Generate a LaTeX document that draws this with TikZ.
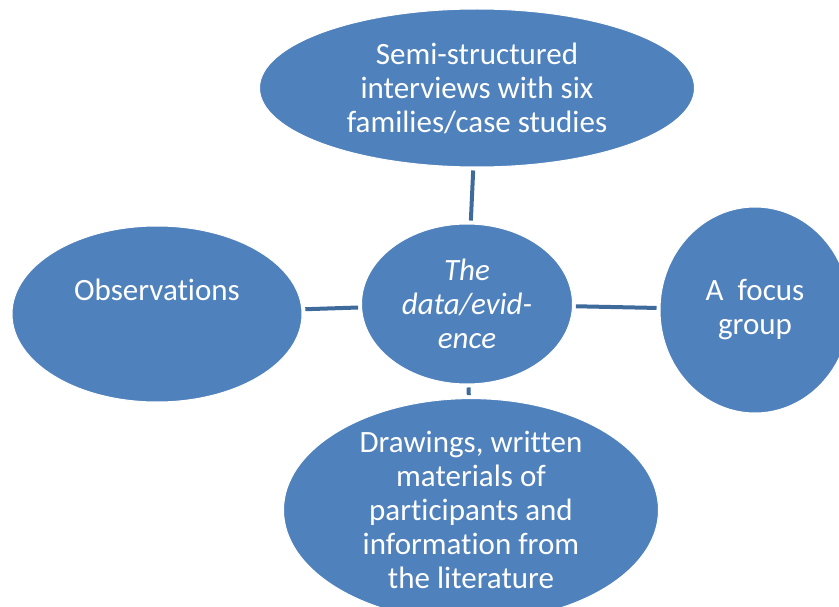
\documentclass[tikz,border=0pt]{standalone}
\usepackage{fontspec}
\setmainfont{Carlito}[Ligatures=NoCommon]
\usetikzlibrary{shapes.geometric}
\definecolor{nodeblue}{HTML}{4F81BD}
\definecolor{edgeblue}{HTML}{3E6A9C}
\tikzset{
  blob/.style={ellipse, fill=nodeblue, draw=white, line width=1pt, inner sep=0pt,
    text=white, align=center, font=\fontsize{31}{34}\selectfont},
  blobtext/.style={text=white, align=center, font=\fontsize{31}{34}\selectfont}
}
\begin{document}
\begin{tikzpicture}[x=1pt,y=-1pt]
  \useasboundingbox (0,0) rectangle (839,607);
  \node[blob, minimum width=435, minimum height=158] (interviews) at (477,88)
    {Semi-structured\\interviews with six\\families/case studies};
  \node[blob, minimum width=211, minimum height=160] (evidence) at (467,304)
    {\itshape The\\\itshape data/evid-\\\itshape ence};
  \node[blob, minimum width=290, minimum height=176] (observations) at (157,314) {};
  \node[blobtext] (obstext) at (157,290) {Observations};
  \node[blob, minimum width=190, minimum height=206] (focus) at (755,310)
    {A\ \ focus\\group};
  \node[blob, minimum width=375, minimum height=216] (drawings) at (471,510)
    {Drawings, written\\materials of\\participants and\\information from\\the literature};
  \begin{scope}[edgeblue, line width=4pt, shorten <=3pt, shorten >=3pt]
    \draw (interviews) -- (evidence);
    \draw (observations) -- (evidence);
    \draw (evidence) -- (focus);
    \draw (evidence) -- (drawings);
  \end{scope}
\end{tikzpicture}
\end{document}
